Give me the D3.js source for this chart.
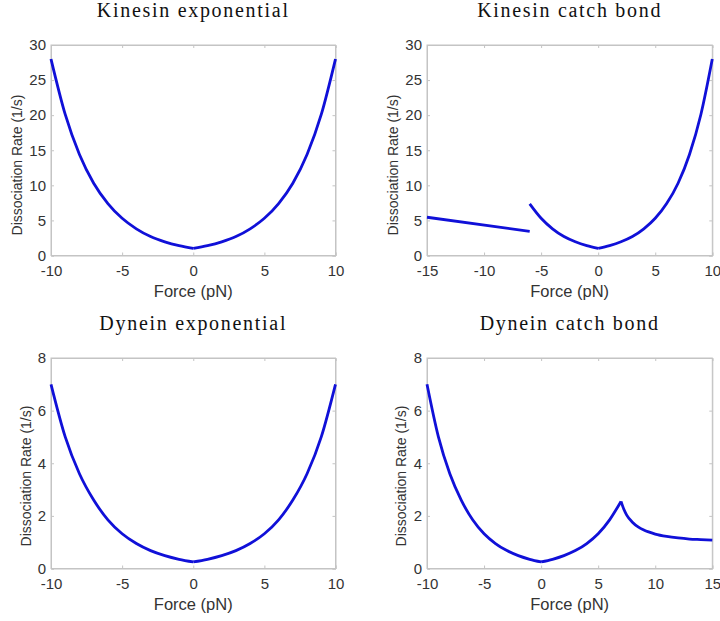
<!DOCTYPE html>
<html>
<head>
<meta charset="utf-8">
<script src="https://cdn.jsdelivr.net/npm/d3@7"></script>
<style>
  body { margin: 0; background: #fff; }
  svg { display: block; }
</style>
</head>
<body>
<svg id="chart" width="720" height="621"></svg>
<script>
// force grids (pN)
const forceNeg = [-10, -9, -8, -7, -6, -5, -4, -3, -2, -1, 0];
const forcePos = [0, 1, 2, 3, 4, 5, 6, 7, 8, 9, 10];

// kinesin exponential (1/s)
const kinExpNeg = [28.0, 20.1, 14.4, 10.3, 7.4, 5.3, 3.8, 2.7, 1.95, 1.4, 1.0];
const kinExpPos = [1.0, 1.4, 1.95, 2.7, 3.8, 5.3, 7.4, 10.3, 14.4, 20.1, 28.0];

// kinesin catch bond
const kinSlipForce = [-15, -6];
const kinSlipRate = [5.45, 3.45];
const kinCatchForce = [-6, -5, -4, -3, -2, -1, 0];
const kinCatchRate = [7.35, 5.3, 3.8, 2.7, 1.95, 1.4, 1.0];

// dynein exponential
const dynExpNeg = [7.0, 5.0, 3.6, 2.6, 1.85, 1.32, 0.95, 0.68, 0.49, 0.35, 0.25];
const dynExpPos = [0.25, 0.35, 0.49, 0.68, 0.95, 1.32, 1.85, 2.6, 3.6, 5.0, 7.0];

// dynein catch bond
const dynRiseForce = [0, 1, 2, 3, 4, 5, 6, 7];
const dynRiseRate = [0.25, 0.35, 0.49, 0.68, 0.95, 1.32, 1.85, 2.55];
const dynDecayForce = [7, 7.25, 7.5, 8, 8.5, 9, 10, 11, 12, 13, 14, 15];
const dynDecayRate = [2.55, 2.25, 2.03, 1.76, 1.58, 1.46, 1.31, 1.22, 1.16, 1.12, 1.1, 1.08];

const zip = (xs, ys) => xs.map((x, i) => ({ f: x, r: ys[i] }));

const panels = [
  {
    title: "Kinesin exponential",
    x0: 51, x1: 335.5, y0: 45, y1: 255.5,
    xDomain: [-10, 10], xTicks: [-10, -5, 0, 5, 10],
    yDomain: [0, 30], yTicks: [0, 5, 10, 15, 20, 25, 30],
    ylabX: 22, ylabY: 165,
    segments: [zip(forceNeg, kinExpNeg), zip(forcePos, kinExpPos)],
  },
  {
    title: "Kinesin catch bond",
    x0: 427, x1: 712.3, y0: 45, y1: 255.5,
    xDomain: [-15, 10], xTicks: [-15, -10, -5, 0, 5, 10],
    yDomain: [0, 30], yTicks: [0, 5, 10, 15, 20, 25, 30],
    ylabX: 398, ylabY: 165,
    segments: [zip(kinSlipForce, kinSlipRate), zip(kinCatchForce, kinCatchRate), zip(forcePos, kinExpPos)],
  },
  {
    title: "Dynein exponential",
    x0: 51, x1: 335.5, y0: 358, y1: 568.5,
    xDomain: [-10, 10], xTicks: [-10, -5, 0, 5, 10],
    yDomain: [0, 8], yTicks: [0, 2, 4, 6, 8],
    ylabX: 31, ylabY: 476,
    segments: [zip(forceNeg, dynExpNeg), zip(forcePos, dynExpPos)],
  },
  {
    title: "Dynein catch bond",
    x0: 427, x1: 712.3, y0: 358, y1: 568.5,
    xDomain: [-10, 15], xTicks: [-10, -5, 0, 5, 10, 15],
    yDomain: [0, 8], yTicks: [0, 2, 4, 6, 8],
    ylabX: 406, ylabY: 476,
    segments: [zip(forceNeg, dynExpNeg), zip(dynRiseForce, dynRiseRate), zip(dynDecayForce, dynDecayRate)],
  },
];

const svg = d3.select("#chart");
const axisColor = "#c4c4c4";
const textColor = "#333";
const lineColor = "#1010d8";

panels.forEach((p) => {
  const g = svg.append("g");
  const x = d3.scaleLinear().domain(p.xDomain).range([p.x0, p.x1]);
  const y = d3.scaleLinear().domain(p.yDomain).range([p.y1, p.y0]);

  // title
  g.append("text")
    .attr("x", (p.x0 + p.x1) / 2)
    .attr("y", p.y0 - 28)
    .attr("text-anchor", "middle")
    .style("font", "20px 'Liberation Serif', serif")
    .style("letter-spacing", "1.7px")
    .attr("fill", "#111")
    .text(p.title);

  // box
  g.append("rect")
    .attr("x", p.x0).attr("y", p.y0)
    .attr("width", p.x1 - p.x0).attr("height", p.y1 - p.y0)
    .attr("fill", "none").attr("stroke", axisColor).attr("stroke-width", 1);

  // bottom axis (ticks inside)
  const xa = g.append("g")
    .attr("transform", `translate(0,${p.y1})`)
    .call(d3.axisBottom(x).tickValues(p.xTicks).tickSize(-3).tickFormat((d) => String(d)));
  // top ticks
  g.append("g")
    .attr("transform", `translate(0,${p.y0})`)
    .call(d3.axisTop(x).tickValues(p.xTicks).tickSize(-3).tickFormat(""));
  // left axis
  const ya = g.append("g")
    .attr("transform", `translate(${p.x0},0)`)
    .call(d3.axisLeft(y).tickValues(p.yTicks).tickSize(-3).tickFormat((d) => String(d)));
  // right ticks
  g.append("g")
    .attr("transform", `translate(${p.x1},0)`)
    .call(d3.axisRight(y).tickValues(p.yTicks).tickSize(-3).tickFormat(""));

  g.selectAll(".domain").attr("stroke", axisColor);
  g.selectAll(".tick line").attr("stroke", axisColor);
  g.selectAll(".tick text")
    .attr("fill", textColor)
    .style("font", "15px 'Liberation Sans', Arial, sans-serif");
  xa.selectAll(".tick text").attr("dy", "0.71em").attr("y", 10);
  ya.selectAll(".tick text").attr("x", -5);

  // axis labels
  g.append("text")
    .attr("x", (p.x0 + p.x1) / 2)
    .attr("y", p.y1 + 41)
    .attr("text-anchor", "middle")
    .attr("fill", textColor)
    .style("font", "16.5px 'Liberation Sans', Arial, sans-serif")
    .text("Force (pN)");

  g.append("text")
    .attr("transform", `translate(${p.ylabX},${p.ylabY}) rotate(-90)`)
    .attr("text-anchor", "middle")
    .attr("fill", textColor)
    .style("font", "14px 'Liberation Sans', Arial, sans-serif")
    .text("Dissociation Rate (1/s)");

  // curves
  const line = d3.line()
    .x((d) => x(d.f))
    .y((d) => y(d.r))
    .curve(d3.curveMonotoneX);

  g.selectAll("path.curve")
    .data(p.segments)
    .join("path")
    .attr("class", "curve")
    .attr("fill", "none")
    .attr("stroke", lineColor)
    .attr("stroke-width", 2.8)
    .attr("stroke-linejoin", "round")
    .attr("d", line);
});
</script>
</body>
</html>
